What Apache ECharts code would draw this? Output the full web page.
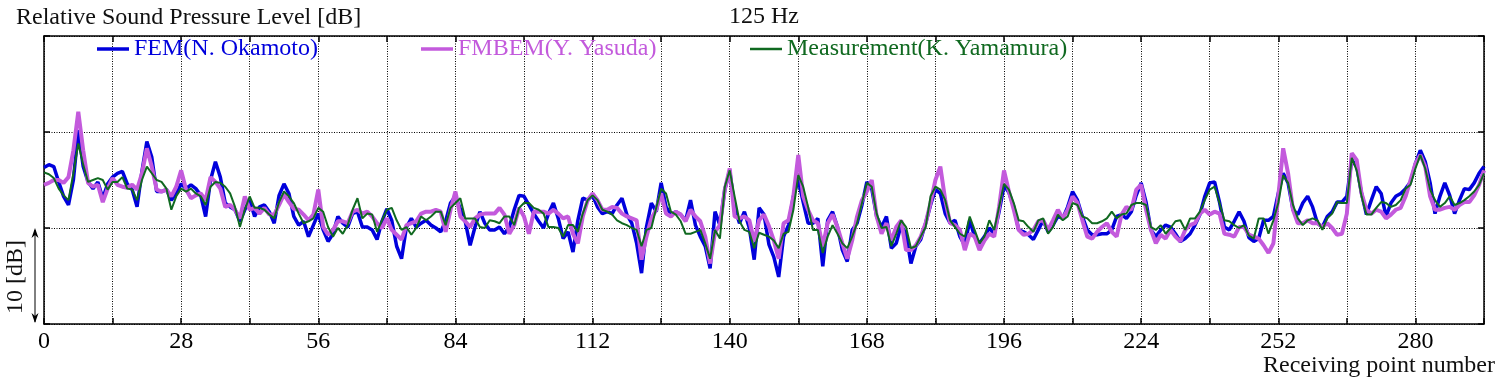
<!DOCTYPE html>
<html>
<head>
<meta charset="utf-8">
<script src="https://cdn.jsdelivr.net/npm/echarts@6/dist/echarts.min.js"></script>
<style>
html,body{margin:0;padding:0;background:#ffffff;}
#chart{width:1502px;height:387px;}
</style>
</head>
<body>
<div id="chart"></div>
<script>
// Relative sound pressure level [dB] at each receiving point (index 0..294)
const fem = [
16.3, 16.6, 16.4, 14.8, 13.3, 12.4, 15.0, 20.2, 16.4, 14.8,
14.1, 14.8, 13.1, 14.6, 15.3, 15.7, 15.9, 14.6, 14.0, 12.2,
15.9, 19.0, 17.4, 13.8, 13.8, 14.0, 12.9, 13.6, 14.6, 14.1,
14.5, 14.1, 13.4, 11.2, 15.0, 16.9, 15.3, 12.6, 12.2, 11.9,
10.7, 11.9, 12.9, 11.2, 12.2, 12.4, 11.7, 10.5, 13.4, 14.6,
13.6, 11.2, 10.3, 10.7, 9.1, 10.3, 11.5, 9.8, 8.6, 9.4,
11.2, 10.5, 10.1, 11.5, 11.7, 10.1, 10.1, 9.8, 8.8, 10.7,
12.0, 10.8, 8.1, 6.8, 10.1, 11.0, 10.1, 10.5, 10.8, 10.3,
10.0, 9.6, 10.7, 12.6, 13.3, 12.0, 10.7, 8.2, 10.1, 11.7,
10.5, 9.8, 9.8, 10.1, 9.4, 10.1, 11.9, 13.4, 13.3, 12.4,
11.5, 10.7, 10.0, 11.5, 12.6, 11.0, 8.9, 9.6, 7.5, 10.8,
13.1, 12.9, 13.4, 12.2, 11.5, 11.7, 11.5, 12.4, 13.1, 11.4,
10.5, 8.4, 5.3, 10.1, 12.6, 11.7, 14.7, 12.2, 11.4, 11.7,
11.4, 10.8, 12.9, 10.3, 9.1, 8.1, 5.8, 11.7, 10.3, 14.0,
16.0, 12.1, 10.5, 11.7, 10.0, 6.7, 12.1, 11.4, 8.3, 7.0,
4.9, 9.1, 10.3, 13.3, 15.0, 12.7, 10.5, 10.5, 11.0, 6.0,
10.8, 11.7, 10.1, 7.7, 6.5, 9.8, 10.5, 12.4, 14.8, 14.1,
11.2, 10.1, 11.2, 7.9, 8.4, 10.3, 9.4, 6.3, 8.1, 8.8,
10.5, 12.4, 14.0, 13.6, 11.5, 10.5, 10.8, 9.1, 8.2, 10.8,
9.1, 8.4, 9.1, 10.0, 9.4, 11.7, 14.4, 13.7, 12.2, 9.8,
9.6, 9.3, 8.8, 9.8, 10.8, 9.6, 10.3, 11.2, 11.0, 12.2,
13.8, 12.9, 11.2, 9.8, 9.3, 9.3, 9.4, 9.4, 9.8, 11.2,
11.4, 11.0, 11.7, 13.4, 14.7, 12.7, 9.8, 9.1, 9.8, 10.3,
10.1, 9.4, 8.6, 8.9, 9.4, 10.3, 11.4, 13.3, 14.7, 14.8,
12.7, 10.1, 9.8, 10.7, 11.7, 10.7, 9.0, 8.6, 8.9, 10.8,
10.8, 11.2, 13.6, 15.7, 14.7, 11.9, 11.4, 12.6, 13.3, 12.2,
10.5, 10.1, 11.2, 11.7, 12.7, 12.7, 13.3, 17.1, 16.4, 13.6,
11.4, 12.9, 14.3, 13.6, 11.2, 12.6, 13.3, 13.6, 14.1, 14.8,
16.7, 18.1, 16.9, 14.7, 11.5, 13.3, 14.7, 13.4, 11.5, 12.9,
14.1, 14.0, 14.7, 15.7, 16.4
];
const fmbem = [
14.5, 14.7, 15.0, 15.0, 14.7, 15.3, 18.1, 22.1, 18.1, 14.7,
14.3, 14.5, 12.7, 14.1, 15.2, 14.5, 14.3, 14.2, 14.5, 14.0,
15.7, 18.3, 16.4, 14.0, 13.8, 14.0, 13.3, 14.3, 16.0, 14.0,
13.1, 13.4, 13.6, 12.9, 15.3, 14.8, 14.1, 12.2, 12.4, 11.9,
11.0, 13.3, 11.9, 12.1, 11.5, 12.1, 11.4, 11.4, 12.4, 13.5,
12.7, 12.0, 11.9, 11.4, 10.8, 11.4, 14.0, 10.1, 9.3, 9.8,
10.7, 10.7, 10.5, 11.7, 11.9, 11.5, 11.7, 11.2, 10.5, 10.0,
11.0, 9.8, 9.3, 8.8, 10.3, 10.5, 10.7, 11.5, 11.7, 11.7,
11.9, 11.7, 9.6, 11.9, 13.8, 11.2, 10.7, 10.1, 11.0, 11.4,
11.5, 11.5, 11.5, 12.1, 11.4, 9.4, 10.3, 12.1, 11.2, 9.4,
11.7, 11.7, 11.7, 11.5, 11.9, 11.5, 11.0, 11.2, 9.4, 8.4,
11.2, 12.9, 13.6, 12.9, 11.9, 11.9, 12.2, 12.1, 11.5, 11.2,
11.0, 10.8, 6.7, 9.1, 11.0, 11.9, 13.6, 11.5, 11.2, 11.7,
11.4, 10.7, 11.9, 11.2, 10.7, 9.1, 6.3, 9.6, 10.3, 14.0,
16.2, 11.2, 11.0, 11.2, 10.8, 8.6, 10.8, 11.4, 10.2, 8.7,
6.8, 10.5, 10.8, 13.3, 17.6, 13.3, 11.9, 10.8, 10.5, 8.1,
10.5, 11.4, 10.1, 8.4, 6.8, 8.7, 11.2, 12.9, 13.8, 15.0,
11.2, 9.4, 10.5, 8.7, 10.1, 10.8, 7.7, 7.7, 8.2, 9.1,
10.5, 12.6, 15.0, 16.4, 12.9, 10.5, 10.3, 9.8, 7.7, 9.4,
9.1, 7.7, 8.7, 9.4, 9.1, 12.2, 16.0, 13.8, 11.9, 9.8,
9.3, 9.4, 9.8, 10.7, 10.8, 9.8, 10.8, 11.9, 11.0, 11.9,
13.3, 12.6, 10.8, 9.1, 8.9, 9.6, 10.1, 10.5, 9.6, 9.1,
11.4, 12.2, 11.9, 14.0, 14.5, 11.9, 9.8, 8.4, 9.3, 8.9,
9.8, 9.1, 8.6, 9.8, 10.3, 10.5, 11.5, 11.9, 11.4, 11.7,
11.5, 9.4, 9.3, 9.1, 10.1, 10.1, 9.3, 9.1, 8.9, 8.2,
7.4, 8.4, 13.3, 18.3, 15.7, 11.9, 10.5, 10.5, 10.8, 10.5,
10.5, 10.1, 10.5, 10.0, 9.3, 9.4, 11.5, 17.8, 17.1, 13.6,
11.9, 11.5, 11.9, 11.7, 11.0, 11.4, 11.9, 12.1, 13.3, 15.0,
16.7, 17.6, 16.4, 13.3, 11.9, 11.9, 12.1, 12.2, 11.9, 12.4,
12.7, 12.7, 13.4, 14.5, 16.0
];
const measurement = [
15.8, 15.6, 15.2, 14.1, 13.4, 12.9, 15.7, 18.8, 16.6, 14.8,
15.0, 15.2, 15.0, 14.0, 14.8, 14.8, 15.3, 14.1, 14.0, 12.9,
15.0, 16.4, 15.7, 15.0, 14.8, 14.1, 11.9, 13.3, 14.1, 13.8,
14.1, 13.6, 13.3, 12.4, 14.3, 14.8, 14.7, 14.3, 13.6, 12.2,
10.1, 11.9, 13.3, 12.1, 12.1, 11.9, 11.4, 11.0, 12.7, 13.8,
13.3, 12.6, 11.5, 10.5, 10.7, 11.0, 12.1, 11.7, 10.1, 9.1,
10.0, 9.4, 10.3, 11.9, 13.1, 11.0, 11.5, 11.4, 9.6, 10.8,
11.9, 12.1, 10.8, 9.8, 10.1, 9.3, 10.0, 11.2, 10.8, 11.2,
11.7, 11.7, 10.3, 12.1, 12.6, 13.1, 11.0, 11.0, 11.0, 10.1,
10.0, 10.8, 10.7, 10.5, 11.2, 11.2, 10.3, 12.1, 12.6, 12.6,
12.1, 11.9, 11.5, 10.1, 10.1, 10.0, 9.1, 10.3, 10.3, 9.6,
11.5, 12.9, 13.4, 12.9, 11.9, 11.7, 11.4, 10.8, 10.5, 10.3,
10.0, 9.8, 8.1, 9.8, 10.0, 12.1, 14.1, 13.6, 11.7, 11.4,
10.7, 9.4, 9.4, 9.6, 9.8, 8.4, 6.8, 9.8, 8.9, 14.3,
16.0, 13.3, 10.7, 9.8, 9.6, 7.9, 9.5, 9.3, 9.1, 8.7,
7.9, 9.4, 9.6, 11.9, 15.5, 14.3, 12.2, 9.8, 9.8, 7.4,
9.1, 10.3, 9.4, 8.4, 7.9, 9.1, 10.5, 12.6, 14.7, 14.3,
11.5, 10.0, 10.1, 8.1, 9.4, 10.8, 10.1, 7.9, 8.1, 9.1,
10.1, 13.3, 14.3, 14.0, 12.9, 10.8, 10.1, 9.4, 9.1, 11.2,
9.8, 8.4, 9.1, 10.8, 9.8, 12.2, 14.6, 14.0, 12.6, 10.8,
10.7, 10.1, 9.6, 10.8, 11.0, 9.4, 10.1, 11.4, 10.8, 11.2,
12.6, 12.4, 11.2, 11.0, 10.5, 10.5, 10.7, 11.0, 11.7, 11.0,
11.4, 11.5, 12.4, 12.6, 12.6, 12.4, 10.1, 9.8, 10.3, 9.4,
10.0, 10.7, 10.8, 9.8, 11.0, 11.0, 11.7, 12.9, 14.0, 14.3,
12.6, 10.8, 10.7, 10.3, 10.0, 10.3, 9.2, 8.9, 11.0, 11.0,
9.4, 10.8, 12.6, 15.5, 14.7, 12.4, 11.0, 10.3, 10.8, 11.0,
10.8, 9.8, 11.0, 11.5, 12.7, 12.6, 12.6, 17.3, 16.0, 13.3,
11.4, 11.4, 12.1, 12.7, 12.6, 12.2, 12.4, 12.9, 14.1, 14.5,
16.2, 17.6, 16.2, 14.0, 12.9, 12.2, 12.6, 13.3, 12.4, 12.6,
12.9, 13.3, 13.8, 14.5, 15.7
];
const seriesNames = ['FEM(N. Okamoto)', 'FMBEM(Y. Yasuda)', 'Measurement(K. Yamamura)'];
const chartTitle = '125 Hz';
const yAxisTitle = 'Relative Sound Pressure Level [dB]';
const xAxisTitle = 'Receiving point number';
const scaleLabel = '10 [dB]';
const xMin = 0, xMax = 294, xStep = 14, xLabelStep = 28;
const yMin = 0, yMax = 30, yStep = 10;

const colors = ['#0000dc', '#c35adc', '#106920'];
const widths = [3.5, 4, 2];
const FONT = '"Liberation Serif", "DejaVu Serif", serif';

const chart = echarts.init(document.getElementById('chart'));
const seriesData = [fem, fmbem, measurement];

const frameLine = {show: true, onZero: false, lineStyle: {color: '#000', width: 1.5}};
const innerTick = {show: true, inside: true, length: 6, lineStyle: {color: '#000', width: 1.5}};
const dotted = {show: true, lineStyle: {color: '#000', width: 1, type: [1, 1.5]}};

const legendLefts = [97, 421, 750];

const option = {
  animation: false,
  backgroundColor: '#ffffff',
  grid: {left: 44, right: 18, top: 36, bottom: 63, containLabel: false},
  xAxis: [
    {type: 'value', min: xMin, max: xMax, interval: xStep, position: 'bottom',
     axisLine: frameLine, axisTick: innerTick,
     axisLabel: {formatter: v => (v % xLabelStep === 0 ? String(v) : ''), fontFamily: FONT, fontSize: 24, color: '#000', margin: 6},
     splitLine: dotted},
    {type: 'value', min: xMin, max: xMax, interval: xStep, position: 'top',
     axisLine: frameLine, axisTick: innerTick, axisLabel: {show: false}, splitLine: {show: false}}
  ],
  yAxis: [
    {type: 'value', min: yMin, max: yMax, interval: yStep, position: 'left',
     axisLine: frameLine, axisTick: innerTick, axisLabel: {show: false}, splitLine: dotted},
    {type: 'value', min: yMin, max: yMax, interval: yStep, position: 'right',
     axisLine: frameLine, axisTick: innerTick, axisLabel: {show: false}, splitLine: {show: false}}
  ],
  legend: seriesNames.map((n, k) => ({
    data: [{name: n}], left: legendLefts[k], top: 37, padding: 0, itemGap: 0,
    icon: 'rect', itemWidth: 32, itemHeight: widths[k] > 3 ? 3.5 : 2.5,
    selectedMode: false,
    textStyle: {color: colors[k], fontFamily: FONT, fontSize: 24}
  })),
  series: seriesData.map((arr, k) => ({
    name: seriesNames[k], type: 'line', xAxisIndex: 0, yAxisIndex: 0,
    showSymbol: false, symbol: 'none', smooth: false, z: 2 + k,
    color: colors[k],
    lineStyle: {color: colors[k], width: widths[k]},
    data: arr.map((v, i) => [i, v])
  }))
};
chart.setOption(option);

const yTop = chart.convertToPixel({yAxisIndex: 0}, 10);
const yBot = chart.convertToPixel({yAxisIndex: 0}, 0);
const xLeft = chart.convertToPixel({xAxisIndex: 0}, xMin);
const xRight = chart.convertToPixel({xAxisIndex: 0}, xMax);
const yPlotTop = chart.convertToPixel({yAxisIndex: 0}, yMax);
const ax = xLeft - 9;

chart.setOption({
  graphic: [
    {type: 'text', id: 'ytitle', x: 16, y: yPlotTop - 18,
     style: {text: yAxisTitle, font: '24px ' + FONT, fill: '#111', align: 'left', verticalAlign: 'middle'}},
    {type: 'text', id: 'title', x: (xLeft + xRight) / 2, y: yPlotTop - 19,
     style: {text: chartTitle, font: '24px ' + FONT, fill: '#111', align: 'center', verticalAlign: 'middle'}},
    {type: 'text', id: 'xtitle', x: xRight + 11, y: yBot + 42,
     style: {text: xAxisTitle, font: '24px ' + FONT, fill: '#111', align: 'right', verticalAlign: 'middle'}},
    {type: 'text', id: 'scale', x: 16, y: (yTop + yBot) / 2 + 1, rotation: Math.PI / 2,
     style: {text: scaleLabel, font: '24px ' + FONT, fill: '#111', align: 'center', verticalAlign: 'middle'}},
    {type: 'line', id: 'arrowline', shape: {x1: ax, y1: yTop + 2, x2: ax, y2: yBot - 2},
     style: {stroke: '#000', lineWidth: 1}},
    {type: 'polygon', id: 'arrowtop', shape: {points: [[ax, yTop], [ax - 3.5, yTop + 10], [ax, yTop + 7], [ax + 3.5, yTop + 10]]},
     style: {fill: '#000'}},
    {type: 'polygon', id: 'arrowbot', shape: {points: [[ax, yBot - 1], [ax - 3.5, yBot - 11], [ax, yBot - 8], [ax + 3.5, yBot - 11]]},
     style: {fill: '#000'}}
  ]
});
</script>
</body>
</html>
